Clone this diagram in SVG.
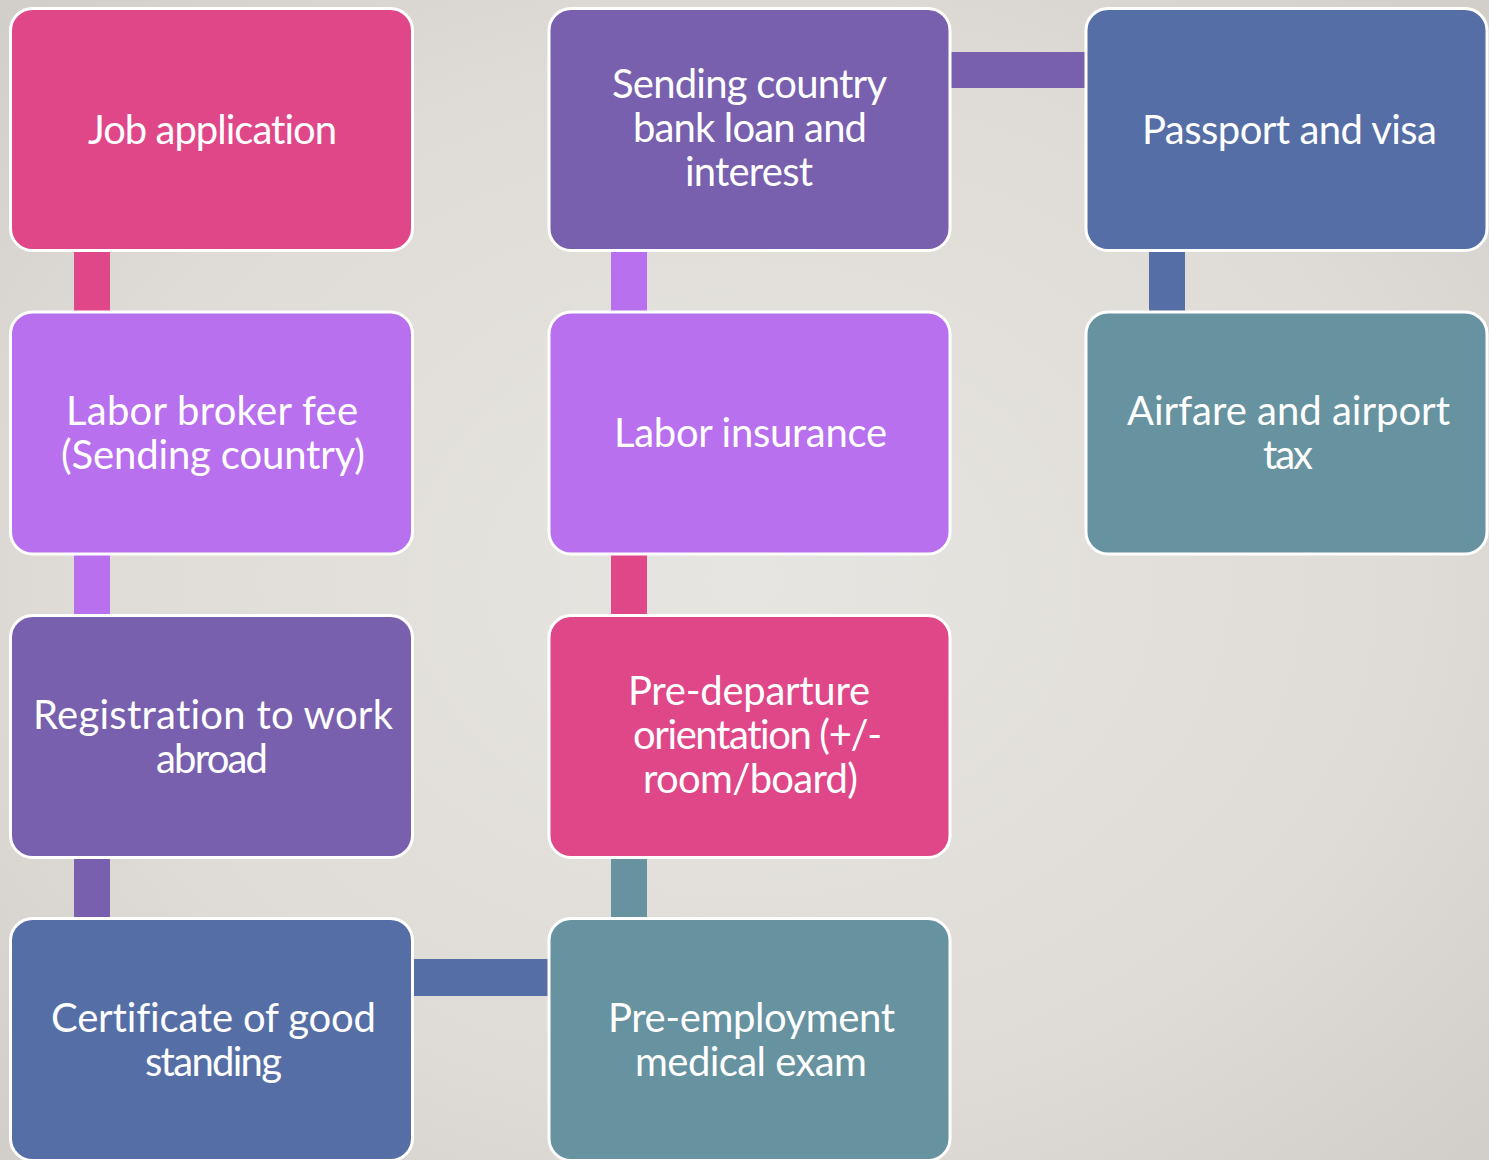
<svg xmlns="http://www.w3.org/2000/svg" width="1489" height="1160" viewBox="0 0 1489 1160">
  <defs>
    <radialGradient id="bg" cx="50%" cy="50%" r="75%">
      <stop offset="0" stop-color="#e7e5e1"/>
      <stop offset="0.6" stop-color="#dfdcd7"/>
      <stop offset="1" stop-color="#cfccc7"/>
    </radialGradient>
  </defs>
  <style>
    .box { stroke: #ffffff; stroke-width: 3; }
    .pink { fill: #df4789; }
    .lav { fill: #b870ee; }
    .purple { fill: #7860ae; }
    .blue { fill: #566ea6; }
    .teal { fill: #67929f; }
    .lbl { font-family: Lato, "Noto Sans", "Liberation Sans", sans-serif; font-size: 40px; fill: #ffffff; text-anchor: middle; font-variant-ligatures: none; }
  </style>

  <rect x="0" y="0" width="1489" height="1160" fill="url(#bg)"/>

  <!-- connectors (coloured by the step they leave from) -->
  <g id="connectors">
    <rect class="pink" x="74" y="248" width="36" height="66"/>
    <rect class="lav" x="74" y="552" width="36" height="66"/>
    <rect class="purple" x="74" y="855" width="36" height="66"/>
    <rect class="blue" x="410" y="959" width="141" height="37"/>
    <rect class="teal" x="611" y="855" width="36" height="66"/>
    <rect class="pink" x="611" y="552" width="36" height="66"/>
    <rect class="lav" x="611" y="248" width="36" height="66"/>
    <rect class="purple" x="948" y="52" width="140" height="36"/>
    <rect class="blue" x="1149" y="248" width="36" height="66"/>
  </g>

  <!-- column 1 -->
  <g id="job-application">
    <rect class="box pink" x="10.5" y="8.5" width="402" height="242" rx="22"/>
    <text class="lbl" x="212.5" y="143.5" textLength="249">Job application</text>
  </g>
  <g id="labor-broker-fee">
    <rect class="box lav" x="10.5" y="312" width="402" height="242" rx="22"/>
    <text class="lbl" x="212" y="425" textLength="292">Labor broker fee</text>
    <text class="lbl" x="213" y="469" textLength="304">(Sending country)</text>
  </g>
  <g id="registration">
    <rect class="box purple" x="10.5" y="615.5" width="402" height="242" rx="22"/>
    <text class="lbl" x="213" y="728.5" textLength="360">Registration to work</text>
    <text class="lbl" x="212" y="772.5" textLength="112">abroad</text>
  </g>
  <g id="certificate">
    <rect class="box blue" x="10.5" y="918.5" width="402" height="242" rx="22"/>
    <text class="lbl" x="213.5" y="1031.5" textLength="325">Certificate of good</text>
    <text class="lbl" x="213.5" y="1075.5" textLength="137">standing</text>
  </g>

  <!-- column 2 -->
  <g id="bank-loan">
    <rect class="box purple" x="549" y="8.5" width="401" height="242" rx="22"/>
    <text class="lbl" x="749.5" y="98" textLength="275">Sending country</text>
    <text class="lbl" x="750" y="142" textLength="234">bank loan and</text>
    <text class="lbl" x="749" y="186" textLength="128">interest</text>
  </g>
  <g id="labor-insurance">
    <rect class="box lav" x="549" y="312" width="401" height="242" rx="22"/>
    <text class="lbl" x="750.5" y="447" textLength="273">Labor insurance</text>
  </g>
  <g id="pre-departure">
    <rect class="box pink" x="549" y="615.5" width="401" height="242" rx="22"/>
    <text class="lbl" x="749" y="705" textLength="242">Pre-departure</text>
    <text class="lbl" x="757.5" y="749" textLength="249">orientation (+/-</text>
    <text class="lbl" x="750.5" y="793" textLength="215">room/board)</text>
  </g>
  <g id="pre-employment">
    <rect class="box teal" x="549" y="918.5" width="401" height="242" rx="22"/>
    <text class="lbl" x="751.5" y="1031.5" textLength="287">Pre-employment</text>
    <text class="lbl" x="751" y="1075.5" textLength="232">medical exam</text>
  </g>

  <!-- column 3 -->
  <g id="passport-visa">
    <rect class="box blue" x="1086" y="8.5" width="401" height="242" rx="22"/>
    <text class="lbl" x="1289.5" y="143.5" textLength="295">Passport and visa</text>
  </g>
  <g id="airfare">
    <rect class="box teal" x="1086" y="312" width="401" height="242" rx="22"/>
    <text class="lbl" x="1288.5" y="425" textLength="323">Airfare and airport</text>
    <text class="lbl" x="1288" y="469" textLength="50">tax</text>
  </g>
</svg>
